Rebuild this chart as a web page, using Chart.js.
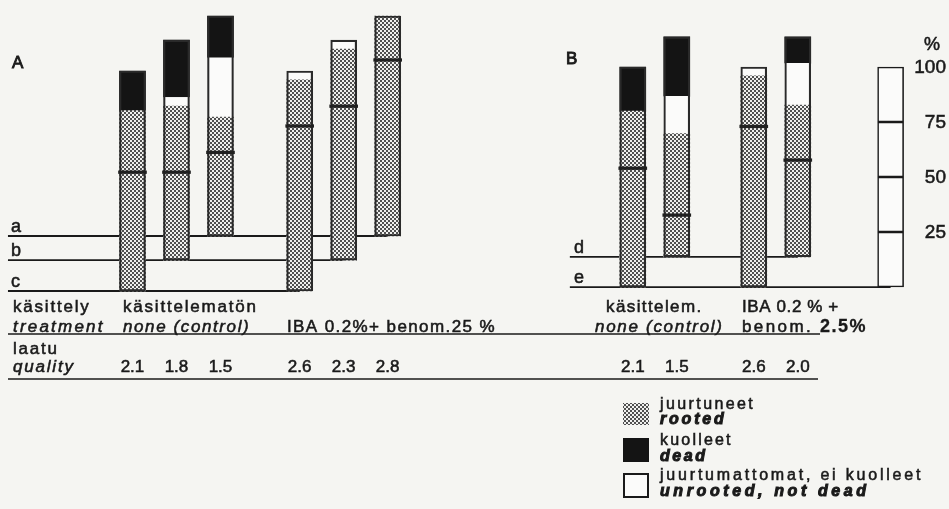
<!DOCTYPE html>
<html>
<head>
<meta charset="utf-8">
<script src="https://cdn.jsdelivr.net/npm/chart.js@4.4.1/dist/chart.umd.min.js"></script>
<style>
html,body{margin:0;padding:0;background:#f5f5f2;}
#wrap{width:949px;height:509px;position:relative;}
</style>
</head>
<body>
<div id="wrap"><canvas id="c"></canvas></div>
<script>
// ---------- DATA (percent of cuttings) ----------
const panel     = ['A','A','A','A','A','A','B','B','B','B'];
const treatment = ['none','none','none','IBA','IBA','IBA','none','none','IBA','IBA'];
const baseLine  = ['c','b','a','c','b','a','e','d','e','d'];
const quality   = [2.1, 1.8, 1.5, 2.6, 2.3, 2.8, 2.1, 1.5, 2.6, 2.0];
const rooted    = [82, 70, 54, 96, 96, 100, 80, 56, 96, 69];
const unrooted  = [0, 4, 27, 4, 4, 0, 0, 17, 4, 19];
const dead      = [18, 26, 19, 0, 0, 0, 20, 27, 0, 12];
const rootedMark = [54, 40, 38, 75, 70, 80, 54, 19, 73, 44]; // line inside the rooted part
const baseNames  = ['a', 'b', 'c', 'd', 'e'];
const baseLevels = [25, 14, 0, 15.5, 1.8];                     // offset of each base line (% units)
const scaleTicks = [25, 50, 75, 100];
const seriesNames = {
  rooted:   ['juurtuneet', 'rooted'],
  dead:     ['kuolleet', 'dead'],
  unrooted: ['juurtumattomat, ei kuolleet', 'unrooted, not dead']
};

// ---------- LAYOUT (positions on the x scale, in bar slots) ----------
const groupStart = {'A-none': 0, 'A-IBA': 3.8, 'B-none': 11.37, 'B-IBA': 14.12};
const panelLineStart = {A: -2.83, B: 9.94};
const scaleBarX = 17.23;
const xPos = [];
(function(){
  const cnt = {};
  for (let i = 0; i < panel.length; i++) {
    const k = panel[i] + '-' + treatment[i];
    cnt[k] = cnt[k] || 0;
    xPos.push(groupStart[k] + cnt[k]);
    cnt[k]++;
  }
})();
const lvl = n => baseLevels[baseNames.indexOf(n)];

function seg(i, lo, hi) {
  const b = lvl(baseLine[i]);
  return {x: xPos[i], y: hi > lo ? [b + lo, b + hi] : null};
}
function markPt(i) {
  const b = lvl(baseLine[i]);
  return {x: xPos[i], y: [b + rootedMark[i] - 0.6, b + rootedMark[i] + 0.6]};
}

// pattern for rooted
function makePattern() {
  const c = document.createElement('canvas');
  c.width = 4; c.height = 4;
  const g = c.getContext('2d');
  g.fillStyle = '#f0f0ee'; g.fillRect(0, 0, 4, 4);
  g.fillStyle = '#505050';
  g.fillRect(0, 0, 2, 2); g.fillRect(2, 2, 2, 2);
  return g.createPattern(c, 'repeat');
}
const dots = makePattern();
const INK = '#1a1a1a';

const barCommon = {
  type: 'bar', grouped: false, barThickness: 26, borderColor: INK, borderSkipped: false
};
const datasets = [
  // outline of each 100 % bar (drawn last)
  Object.assign({}, barCommon, {
    label: 'frame', order: -2,
    data: panel.map((_, i) => seg(i, 0, 100)),
    backgroundColor: 'rgba(0,0,0,0)',
    borderColor: '#2a2a2a',
    borderWidth: 1.5
  }),
  // short dark line inside the rooted part
  Object.assign({}, barCommon, {
    label: 'rooted-mark', order: -3, barThickness: 28,
    data: panel.map((_, i) => markPt(i)),
    backgroundColor: '#202020',
    borderWidth: 0
  }),
  Object.assign({}, barCommon, {
    label: 'rooted-lower', order: 1,
    data: panel.map((_, i) => seg(i, 0, rootedMark[i])),
    backgroundColor: dots,
    borderWidth: 0
  }),
  Object.assign({}, barCommon, {
    label: 'rooted-upper', order: 1,
    data: panel.map((_, i) => seg(i, rootedMark[i], rooted[i])),
    backgroundColor: dots,
    borderWidth: 0
  }),
  Object.assign({}, barCommon, {
    label: 'unrooted', order: 1,
    data: panel.map((_, i) => seg(i, rooted[i], rooted[i] + unrooted[i])),
    backgroundColor: '#fbfbfa',
    borderWidth: 0
  }),
  Object.assign({}, barCommon, {
    label: 'dead', order: 1,
    data: panel.map((_, i) => seg(i, rooted[i] + unrooted[i], 100)),
    backgroundColor: '#141414',
    borderWidth: 0
  }),
  Object.assign({}, barCommon, {
    label: 'scale', order: 1,
    data: scaleTicks.map((t, k) => ({x: scaleBarX, y: [lvl('e') + (k ? scaleTicks[k - 1] : 0), lvl('e') + t]})),
    backgroundColor: '#fbfbfa',
    borderWidth: 1.6
  })
];
// base lines
baseNames.forEach(n => {
  const usedBy = panel.map((p, i) => i).filter(i => baseLine[i] === n);
  const p = panel[usedBy[0]];
  let end = Math.max.apply(null, usedBy.map(i => xPos[i]));
  if (n === 'e') end = scaleBarX;
  datasets.push({
    type: 'line', label: 'base ' + n, order: 5,
    data: [{x: panelLineStart[p], y: lvl(n)}, {x: end, y: lvl(n)}],
    borderColor: INK, borderWidth: 1.8, pointRadius: 0, fill: false, tension: 0
  });
});

// ---------- TEXT / DECORATION PLUGIN ----------
const FONT = '"Liberation Sans", Arial, sans-serif';
function txt(ctx, s, x, y, o) {
  o = o || {};
  ctx.save();
  ctx.font = (o.style || '') + ' ' + (o.weight || 'normal') + ' ' + (o.size || 17) + 'px ' + FONT;
  ctx.fillStyle = INK;
  ctx.strokeStyle = INK;
  ctx.lineWidth = o.bold === undefined ? 0.55 : o.bold;
  ctx.textBaseline = 'middle';
  ctx.textAlign = o.align || 'left';
  try { ctx.letterSpacing = (o.ls === undefined ? 1.8 : o.ls) + 'px'; } catch (e) {}
  ctx.fillText(s, x, y);
  if (ctx.lineWidth > 0) ctx.strokeText(s, x, y);
  ctx.restore();
}
function hline(ctx, x1, x2, y, w) {
  ctx.save(); ctx.strokeStyle = INK; ctx.lineWidth = w || 1.7;
  ctx.beginPath(); ctx.moveTo(x1, y); ctx.lineTo(x2, y); ctx.stroke(); ctx.restore();
}
const deco = {
  id: 'deco',
  beforeDraw(chart) {
    const ctx = chart.ctx;
    ctx.save(); ctx.fillStyle = '#f5f5f2';
    ctx.fillRect(0, 0, chart.width, chart.height); ctx.restore();
  },
  afterDraw(chart) {
    const ctx = chart.ctx, xs = chart.scales.x, ys = chart.scales.y;
    // panel letters
    txt(ctx, 'A', 12, 63, {size: 17, ls: 0, bold: 0.9});
    txt(ctx, 'B', 566, 59, {size: 17, ls: 0, bold: 0.9});
    // base line letters
    baseNames.forEach(n => {
      const y = ys.getPixelForValue(lvl(n)) - 9;
      const x = (n === 'd' || n === 'e') ? 574 : 11;
      txt(ctx, n, x, y, {size: 18, ls: 0});
    });
    // treatment rows
    txt(ctx, 'käsittely', 13, 307);
    txt(ctx, 'käsittelematön', 123, 307);
    txt(ctx, 'treatment', 13, 327, {style: 'italic', ls: 2.2});
    txt(ctx, 'none (control)', 123, 327, {style: 'italic', ls: 1.6});
    txt(ctx, 'IBA 0.2%+ benom.25 %', 287, 327, {ls: 1.4});
    txt(ctx, 'käsittelem.', 606, 307, {ls: 1.4});
    txt(ctx, 'IBA 0.2 % +', 742, 307, {ls: 0.6});
    txt(ctx, 'none (control)', 595, 327, {style: 'italic', ls: 1.7});
    txt(ctx, 'benom.', 742, 327, {ls: 2.4});
    txt(ctx, '2.5%', 820, 327, {size: 18, weight: 'bold', ls: 1.5, bold: 0.3});
    hline(ctx, 8, 820, 334);
    txt(ctx, 'laatu', 13, 349);
    txt(ctx, 'quality', 13, 367, {style: 'italic', ls: 1.8});
    quality.forEach((q, i) => {
      txt(ctx, q.toFixed(1), xs.getPixelForValue(xPos[i]), 367, {align: 'center', ls: 0});
    });
    hline(ctx, 8, 818, 379);
    // percent scale labels
    txt(ctx, '%', 932, 45, {align: 'center', size: 18, ls: 0});
    scaleTicks.forEach(t => {
      txt(ctx, String(t), 946, ys.getPixelForValue(lvl('e') + t) + 1, {align: 'right', size: 19, ls: 0});
    });
    // legend
    const lx = 623, tx = 660;
    ctx.save();
    ctx.fillStyle = dots; ctx.fillRect(lx, 403, 26, 22);
    ctx.fillStyle = '#141414'; ctx.fillRect(lx, 438, 26, 24);
    ctx.fillStyle = '#fbfbfa'; ctx.fillRect(lx + 1, 474, 24, 23);
    ctx.strokeStyle = INK; ctx.lineWidth = 2; ctx.strokeRect(lx + 1, 474, 24, 23);
    ctx.restore();
    txt(ctx, seriesNames.rooted[0], tx, 405, {size: 16, ls: 2.4});
    txt(ctx, seriesNames.rooted[1], tx, 420, {size: 16, ls: 2.8, style: 'italic', weight: 'bold', bold: 0});
    txt(ctx, seriesNames.dead[0], tx, 441, {size: 16, ls: 2.2});
    txt(ctx, seriesNames.dead[1], tx, 457, {size: 16, ls: 2.6, style: 'italic', weight: 'bold', bold: 0});
    txt(ctx, seriesNames.unrooted[0], tx, 476, {size: 16, ls: 2.8});
    txt(ctx, seriesNames.unrooted[1], tx, 492, {size: 16, ls: 3.6, style: 'italic', weight: 'bold', bold: 0});
  }
};

new Chart(document.getElementById('c'), {
  type: 'bar',
  data: {datasets: datasets},
  options: {
    responsive: true, maintainAspectRatio: false, animation: false,
    layout: {padding: 0},
    plugins: {legend: {display: false}, tooltip: {enabled: false}},
    scales: {
      x: {type: 'linear', min: -3.011, max: 18.557, display: false, offset: false},
      y: {type: 'linear', min: -99.09, max: 132.27, display: false}
    }
  },
  plugins: [deco]
});
</script>
</body>
</html>
